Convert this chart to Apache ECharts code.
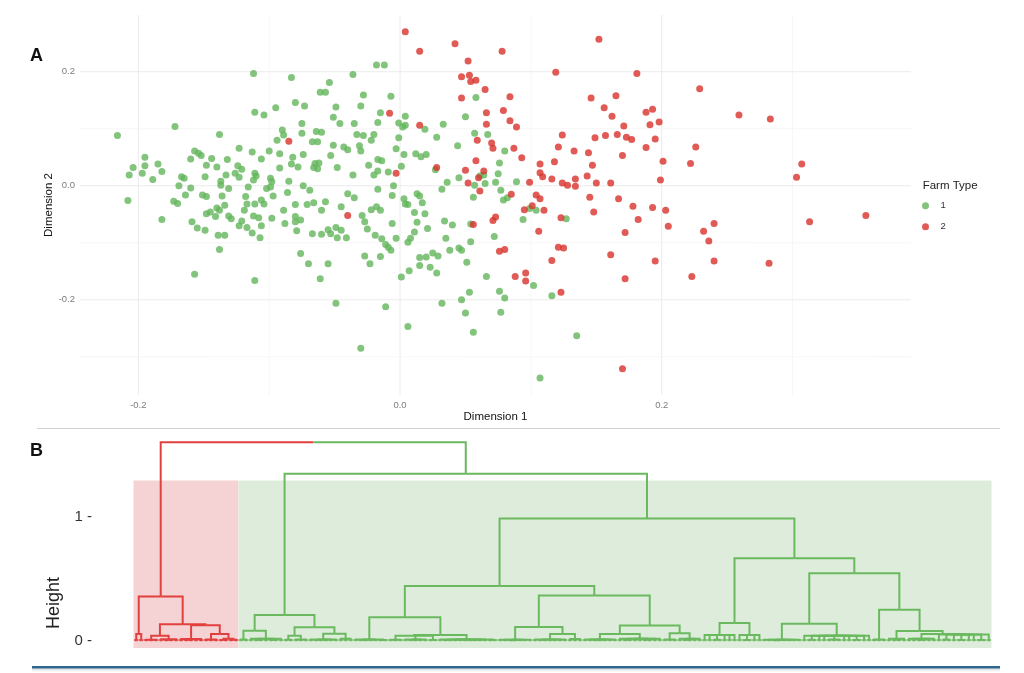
<!DOCTYPE html>
<html>
<head>
<meta charset="utf-8">
<script src="https://cdn.jsdelivr.net/npm/echarts@6/dist/echarts.min.js"></script>
<style>html,body{margin:0;padding:0;background:#fff}#c{width:1024px;height:673px}</style>
</head>
<body>
<div id="c"></div>
<script>
// ---------- Panel A data: MDS dimensions by farm type ----------
const farmType1 = [
[-0.018,0.212],[-0.012,0.212],[-0.112,0.197],[-0.036,0.195],[-0.083,0.190],[-0.054,0.181],[-0.061,0.164],[-0.057,0.164],[-0.028,0.159],[-0.007,0.157],[0.058,0.155],[-0.080,0.146],[-0.073,0.140],[-0.030,0.140],[-0.095,0.137],[-0.049,0.138],[-0.111,0.129],[-0.104,0.124],[-0.015,0.128],[-0.051,0.120],[0.004,0.122],[0.050,0.121],[-0.017,0.111],[-0.075,0.109],[-0.046,0.109],[-0.035,0.109],[-0.001,0.110],[0.004,0.106],[0.002,0.103],[0.033,0.108],[-0.172,0.104],[-0.090,0.098],[-0.089,0.089],[0.019,0.099],[-0.064,0.095],[-0.060,0.094],[-0.075,0.092],[-0.028,0.088],[-0.033,0.090],[-0.020,0.090],[0.057,0.092],[0.067,0.090],[-0.216,0.088],[-0.138,0.090],[0.028,0.085],[-0.001,0.084],[-0.094,0.080],[-0.022,0.080],[-0.067,0.077],[-0.063,0.077],[-0.051,0.071],[-0.031,0.070],[-0.043,0.068],[-0.040,0.063],[0.044,0.070],[-0.123,0.066],[-0.157,0.061],[-0.154,0.057],[-0.152,0.053],[-0.003,0.065],[-0.113,0.059],[-0.100,0.061],[-0.030,0.061],[-0.092,0.056],[-0.074,0.055],[-0.195,0.050],[-0.144,0.048],[-0.132,0.046],[-0.160,0.047],[-0.053,0.053],[0.003,0.055],[0.012,0.056],[0.016,0.051],[0.020,0.055],[-0.106,0.047],[-0.082,0.050],[-0.017,0.046],[-0.014,0.044],[0.076,0.040],[-0.185,0.038],[-0.204,0.032],[-0.195,0.035],[-0.182,0.025],[-0.148,0.036],[-0.140,0.033],[-0.124,0.035],[-0.121,0.029],[-0.065,0.039],[-0.062,0.040],[-0.063,0.030],[-0.066,0.032],[-0.083,0.038],[-0.078,0.033],[-0.024,0.036],[0.001,0.034],[-0.048,0.032],[0.027,0.028],[-0.092,0.031],[-0.207,0.019],[-0.197,0.022],[-0.189,0.011],[-0.167,0.016],[-0.165,0.013],[-0.149,0.016],[-0.133,0.019],[-0.126,0.022],[-0.111,0.022],[-0.110,0.017],[-0.099,0.013],[-0.036,0.019],[-0.017,0.026],[-0.020,0.019],[-0.009,0.024],[0.045,0.014],[0.061,0.017],[0.064,0.019],[0.075,0.021],[-0.137,0.008],[-0.123,0.015],[-0.112,0.010],[-0.098,0.007],[-0.085,0.008],[0.036,0.006],[0.073,0.006],[0.057,0.001],[0.065,0.004],[-0.169,0.000],[-0.160,-0.004],[-0.137,0.001],[-0.131,-0.005],[-0.116,-0.002],[-0.102,-0.005],[-0.099,-0.002],[-0.074,0.000],[-0.069,-0.008],[-0.005,0.000],[-0.017,-0.006],[0.032,-0.006],[0.077,-0.008],[-0.208,-0.026],[-0.173,-0.027],[-0.170,-0.031],[-0.164,-0.016],[-0.151,-0.016],[-0.148,-0.019],[-0.136,-0.018],[-0.118,-0.019],[-0.106,-0.025],[-0.097,-0.018],[-0.086,-0.012],[-0.040,-0.014],[-0.035,-0.021],[-0.006,-0.017],[0.013,-0.014],[0.015,-0.018],[0.003,-0.023],[0.056,-0.020],[0.079,-0.025],[0.082,-0.021],[-0.117,-0.032],[-0.111,-0.032],[-0.104,-0.032],[-0.080,-0.033],[-0.071,-0.033],[-0.066,-0.030],[-0.057,-0.028],[0.004,-0.032],[0.006,-0.033],[0.017,-0.030],[-0.148,-0.049],[-0.145,-0.046],[-0.140,-0.039],[-0.138,-0.043],[-0.134,-0.034],[-0.119,-0.043],[-0.089,-0.043],[-0.060,-0.043],[-0.045,-0.037],[-0.022,-0.042],[-0.018,-0.037],[-0.015,-0.043],[-0.029,-0.052],[0.011,-0.047],[0.019,-0.049],[-0.182,-0.059],[-0.141,-0.054],[-0.131,-0.053],[-0.129,-0.058],[-0.112,-0.053],[-0.098,-0.057],[-0.080,-0.054],[-0.076,-0.060],[-0.159,-0.063],[-0.155,-0.074],[-0.123,-0.070],[-0.121,-0.062],[-0.117,-0.073],[-0.108,-0.056],[-0.106,-0.070],[-0.088,-0.066],[-0.080,-0.063],[-0.079,-0.079],[-0.027,-0.063],[-0.006,-0.066],[0.013,-0.064],[0.034,-0.062],[0.040,-0.069],[0.054,-0.067],[0.021,-0.075],[-0.025,-0.076],[-0.149,-0.078],[-0.139,-0.087],[-0.134,-0.087],[-0.113,-0.083],[-0.107,-0.091],[-0.067,-0.084],[-0.060,-0.085],[-0.055,-0.077],[-0.053,-0.084],[-0.049,-0.073],[-0.048,-0.091],[-0.045,-0.078],[-0.041,-0.091],[-0.019,-0.087],[-0.014,-0.093],[-0.003,-0.092],[0.011,-0.081],[0.008,-0.092],[0.035,-0.092],[0.072,-0.089],[0.006,-0.099],[0.054,-0.098],[-0.011,-0.103],[-0.009,-0.108],[-0.007,-0.113],[-0.138,-0.112],[0.045,-0.109],[0.047,-0.113],[0.038,-0.113],[0.025,-0.118],[0.029,-0.123],[0.015,-0.126],[0.020,-0.125],[-0.027,-0.123],[-0.015,-0.124],[-0.076,-0.119],[-0.070,-0.137],[-0.055,-0.137],[-0.023,-0.137],[0.015,-0.140],[0.023,-0.143],[0.051,-0.134],[-0.157,-0.155],[-0.111,-0.166],[-0.061,-0.163],[0.001,-0.160],[0.007,-0.149],[0.028,-0.153],[0.066,-0.159],[0.053,-0.187],[0.076,-0.185],[0.080,-0.197],[0.047,-0.200],[-0.049,-0.206],[-0.011,-0.212],[0.032,-0.206],[0.050,-0.223],[0.077,-0.222],[0.006,-0.247],[0.056,-0.257],[-0.030,-0.285],[0.080,0.061],
[0.089,0.007],[0.099,-0.040],[0.104,-0.043],[0.127,-0.058],[0.094,-0.059],[0.102,-0.175],[0.116,-0.193],[0.135,-0.263],[0.107,-0.337]
];
const farmType2 = [
[0.004,0.270],[0.015,0.236],[0.042,0.249],[0.078,0.236],[0.052,0.219],[0.047,0.191],[0.053,0.194],[0.054,0.183],[0.058,0.185],[0.065,0.169],[0.047,0.154],[0.084,0.156],[-0.008,0.127],[0.066,0.128],[0.079,0.132],[0.084,0.114],[0.015,0.106],[0.066,0.108],[-0.085,0.078],[0.059,0.080],[0.070,0.075],[0.071,0.066],[0.058,0.044],[0.028,0.032],[-0.003,0.022],[0.050,0.027],[0.064,0.026],[0.060,0.014],[0.052,0.005],[0.061,-0.009],[0.085,-0.015],[-0.040,-0.052],[0.073,-0.055],[0.071,-0.061],[0.056,-0.068],[0.076,-0.115],[0.080,-0.112],
[0.152,0.257],[0.119,0.199],[0.181,0.197],[0.229,0.170],[0.146,0.154],[0.165,0.158],[0.156,0.137],[0.162,0.122],[0.188,0.129],[0.193,0.134],[0.191,0.107],[0.198,0.112],[0.171,0.105],[0.259,0.124],[0.283,0.117],[0.089,0.103],[0.124,0.089],[0.149,0.084],[0.157,0.088],[0.166,0.090],[0.173,0.085],[0.177,0.081],[0.195,0.082],[0.087,0.066],[0.121,0.068],[0.133,0.061],[0.144,0.058],[0.170,0.053],[0.188,0.067],[0.226,0.068],[0.093,0.049],[0.107,0.038],[0.118,0.042],[0.147,0.036],[0.201,0.043],[0.222,0.039],[0.307,0.038],[0.099,0.006],[0.107,0.023],[0.109,0.016],[0.116,0.012],[0.124,0.005],[0.128,0.001],[0.134,0.012],[0.134,-0.001],[0.143,0.017],[0.150,0.005],[0.161,0.005],[0.199,0.010],[0.303,0.015],[0.104,-0.016],[0.107,-0.023],[0.145,-0.020],[0.167,-0.023],[0.178,-0.036],[0.193,-0.038],[0.203,-0.043],[0.095,-0.042],[0.110,-0.043],[0.101,-0.035],[0.148,-0.046],[0.123,-0.056],[0.182,-0.059],[0.313,-0.063],[0.356,-0.052],[0.106,-0.080],[0.172,-0.082],[0.205,-0.071],[0.232,-0.080],[0.240,-0.066],[0.236,-0.097],[0.121,-0.108],[0.125,-0.109],[0.161,-0.121],[0.116,-0.131],[0.195,-0.132],[0.240,-0.132],[0.282,-0.136],[0.088,-0.159],[0.096,-0.153],[0.096,-0.167],[0.172,-0.163],[0.223,-0.159],[0.123,-0.187],[0.170,-0.321]
];
const farmTypeNames = ['1', '2'];
const dimTicksX = [-0.2, 0, 0.2];
const dimTicksY = [-0.2, 0, 0.2];
const gridValuesX = [-0.2, -0.1, 0, 0.1, 0.2, 0.3];
const gridValuesY = [-0.3, -0.2, -0.1, 0, 0.1, 0.2];

// ---------- Panel B data: hierarchical clustering tree ----------
// node = [height, child, child, ...]; leaf = 0; P = two leaves joined just above 0
const P = [0.004, 0, 0];
const redTree = [0.357,
  [0.054, P, P],
  [0.133,
    [0.04, [0.008,P,P,P], [0.011,P,[0.005,P,P],P]],
    [0.124,
      [0.013, P,[0.006,P,P],P,P],
      [0.054, [0.01,P,P,P], [0.015,[0.006,P,P],[0.008,P,P]]]
    ]
  ]
];
const greenTree = [1.353,
  [0.208,
    [0.081, [0.01,P,P], [0.015,P,[0.006,P,P],P,[0.005,P,P],P]],
    [0.108,
      [0.04,[0.008,P,P],[0.01,P,P,P]],
      [0.055,[0.01,P,[0.005,P,P],P,P,P],[0.015,P,P,P]]
    ]
  ],
  [0.989,
    [0.443,
      [0.19,
        [0.01,P,[0.005,P,P],P,P,[0.006,P,P]],
        [0.045,
          [0.04,[0.008,P,P,P],[0.01,P,[0.005,P,P],P,P],[0.006,P,P]],
          [0.01,P,[0.005,P,P],P,P,[0.006,P,P,P],P,P,[0.005,P,P]]
        ]
      ],
      [0.365,
        [0.111,
          [0.008,P,P,[0.004,P,P],P,P,P],
          [0.054,[0.01,P,[0.005,P,P],P,P,P,P],[0.013,P,P,P]]
        ],
        [0.122,
          [0.054,[0.01,P,P,[0.005,P,P],P,P,P],[0.015,P,[0.006,P,P],P,P,[0.005,P,P],P,P]],
          [0.06,[0.01,P,P,P],[0.015,P,[0.005,P,P],P,P]]
        ]
      ]
    ],
    [0.668,
      [0.143,[0.045,P,P,[0.008,P,P],P,P,P],[0.045,P,[0.006,P,P],P,P]],
      [0.546,
        [0.138,[0.008,P,P,[0.004,P,P],P,P,P,P],[0.04,P,[0.008,P,P],P,P,[0.01,P,P,P],P,P,[0.005,P,P],P,P]],
        [0.251,
          [0.01,P,P,P],
          [0.079,
            [0.015,P,[0.006,P,P],P],
            [0.054,[0.015,P,P,[0.005,P,P],P,P],[0.05,P,[0.01,P,P],P,[0.006,P,P],P,P,[0.005,P,P],P]]
          ]
        ]
      ]
    ]
  ]
];
const rootHeight = 1.608;
const heightTicks = [0, 1];
const clusterRectTop = 1.297;
const clusterRectBottom = -0.06;

// ---------- styles ----------
const GREEN = '#63b55b', RED = '#d8322c';
const DEND_RED = '#e2403e', DEND_GREEN = '#6ab95f';
const FILL_RED = '#f5d3d4', FILL_GREEN = '#deeddb';
const FONT = 'Liberation Sans, Arial, sans-serif';

// ---------- dendrogram layout ----------
let leafCounter = 0;
const segments = [];
function layout(node, color) {
  if (node === 0) { const x = leafCounter++; return {x: x, h: 0, lo: x, hi: x, color: color}; }
  const h = node[0];
  const kids = node.slice(1).map(k => layout(k, color));
  const x = (kids[0].x + kids[kids.length - 1].x) / 2;
  kids.forEach(k => segments.push({coords: [[k.x, k.h], [k.x, h], [x, h]], lineStyle: {color: k.color}}));
  return {x: x, h: h, lo: kids[0].lo, hi: kids[kids.length - 1].hi, color: color};
}
const redRes = layout(redTree, DEND_RED);
const greenRes = layout(greenTree, DEND_GREEN);
const rootX = (redRes.x + greenRes.x) / 2;
[redRes, greenRes].forEach(k => segments.push({coords: [[k.x, k.h], [k.x, rootHeight], [rootX, rootHeight]], lineStyle: {color: k.color}}));
const nLeaves = leafCounter;
const leafPad = 0.6;
const boundary = (redRes.hi + greenRes.lo) / 2;
const clusterRects = [
  [redRes.lo - leafPad, boundary, clusterRectBottom, clusterRectTop, FILL_RED],
  [boundary, greenRes.hi + leafPad, clusterRectBottom, clusterRectTop, FILL_GREEN]
];
// leaf axis: first leaf sits 30px right of the axis, last leaf 10px left of the panel edge
const leafSpan = nLeaves - 1;
const dendXMin = -leafSpan * 30 / 855, dendXMax = leafSpan * (1 + 10 / 855);

// gridline data
const gridData = [];
gridValuesX.forEach(v => gridData.push([v, 0, 1, Math.abs(Math.round(v * 10)) % 2 === 0 ? 1 : 0]));
gridValuesY.forEach(v => gridData.push([0, v, 0, Math.abs(Math.round(v * 10)) % 2 === 0 ? 1 : 0]));

const chart = echarts.init(document.getElementById('c'), null, {renderer: 'canvas'});
const option = {
  backgroundColor: '#fff',
  animation: false,
  textStyle: {fontFamily: FONT},
  grid: [
    {left: 80, top: 15, width: 831, height: 380},
    {left: 105, top: 437, width: 895, height: 212.3}
  ],
  xAxis: [
    {type: 'value', gridIndex: 0, min: -0.2446, max: 0.3905,
     axisLine: {show: false}, axisTick: {show: false}, splitLine: {show: false},
     axisLabel: {customValues: dimTicksX, formatter: v => v.toFixed(1), fontSize: 9.5, color: '#7d7d7d', margin: 5, fontFamily: FONT}},
    {type: 'value', gridIndex: 1, min: dendXMin, max: dendXMax, show: false}
  ],
  yAxis: [
    {type: 'value', gridIndex: 0, min: -0.367, max: 0.2995,
     axisLine: {show: false}, axisTick: {show: false}, splitLine: {show: false},
     axisLabel: {customValues: dimTicksY, formatter: v => v.toFixed(1), fontSize: 9.5, color: '#7d7d7d', margin: 5, fontFamily: FONT}},
    {type: 'value', gridIndex: 1, min: -0.07, max: 1.65,
     axisLine: {show: false}, axisTick: {show: false}, splitLine: {show: false},
     axisLabel: {customValues: heightTicks, formatter: v => v + ' -', fontSize: 15, color: '#333', margin: 13, fontFamily: FONT}}
  ],
  legend: {
    data: farmTypeNames, orient: 'vertical', left: 922, top: 200.8, padding: 0,
    icon: 'circle', itemWidth: 20, itemHeight: 7, itemGap: 11, selectedMode: false,
    textStyle: {fontSize: 9.5, color: '#333', fontFamily: FONT}
  },
  graphic: [
    {type: 'text', left: 30, top: 47, style: {text: 'A', font: 'bold 18px ' + FONT, fill: '#111'}},
    {type: 'text', left: 30, top: 442, style: {text: 'B', font: 'bold 18px ' + FONT, fill: '#111'}},
    {type: 'text', left: 922.7, top: 180, style: {text: 'Farm Type', font: '11.5px ' + FONT, fill: '#222'}},
    {type: 'text', x: 495.5, y: 416.7, style: {text: 'Dimension 1', font: '11.5px ' + FONT, fill: '#111', textAlign: 'center', textVerticalAlign: 'middle'}},
    {type: 'text', x: 49, y: 205, rotation: Math.PI / 2, style: {text: 'Dimension 2', font: '11.5px ' + FONT, fill: '#111', textAlign: 'center', textVerticalAlign: 'middle'}},
    {type: 'text', x: 54, y: 603, rotation: Math.PI / 2, style: {text: 'Height', font: '18px ' + FONT, fill: '#222', textAlign: 'center', textVerticalAlign: 'middle'}},
    {type: 'line', shape: {x1: 37, y1: 428.5, x2: 1000, y2: 428.5}, style: {stroke: '#cfcfcf', lineWidth: 1}},
    {type: 'rect', shape: {x: 32, y: 668.5, width: 968, height: 4.5},
     style: {fill: new echarts.graphic.LinearGradient(0, 0, 0, 1, [{offset: 0, color: 'rgba(180,180,180,0.6)'}, {offset: 1, color: 'rgba(255,255,255,0)'}])}},
    {type: 'line', shape: {x1: 32, y1: 667.3, x2: 1000, y2: 667.3}, style: {stroke: '#2f6690', lineWidth: 2.5}}
  ],
  series: [
    {type: 'custom', name: 'grid', xAxisIndex: 0, yAxisIndex: 0, z: 0, silent: true,
     data: gridData,
     renderItem: function (params, api) {
       const cs = params.coordSys;
       const isX = api.value(2) === 1, major = api.value(3) === 1;
       const style = {stroke: major ? '#ebebeb' : '#f4f4f4', lineWidth: major ? 1 : 0.8};
       if (isX) {
         const px = api.coord([api.value(0), 0])[0];
         return {type: 'line', shape: {x1: px, y1: cs.y, x2: px, y2: cs.y + cs.height}, style: style};
       }
       const py = api.coord([0, api.value(1)])[1];
       return {type: 'line', shape: {x1: cs.x, y1: py, x2: cs.x + cs.width, y2: py}, style: style};
     }},
    {type: 'scatter', name: farmTypeNames[0], xAxisIndex: 0, yAxisIndex: 0, data: farmType1,
     symbolSize: 7, itemStyle: {color: GREEN}, z: 3},
    {type: 'scatter', name: farmTypeNames[1], xAxisIndex: 0, yAxisIndex: 0, data: farmType2,
     symbolSize: 7, itemStyle: {color: RED}, z: 3},
    {type: 'custom', name: 'clusters', xAxisIndex: 1, yAxisIndex: 1, z: 1, silent: true,
     data: clusterRects.map(r => [r[0], r[1], r[2], r[3]]),
     encode: {x: [0, 1], y: [2, 3]},
     renderItem: function (params, api) {
       const p0 = api.coord([api.value(0), api.value(3)]);
       const p1 = api.coord([api.value(1), api.value(2)]);
       return {type: 'rect', shape: {x: p0[0], y: p0[1], width: p1[0] - p0[0], height: p1[1] - p0[1]},
               style: {fill: clusterRects[params.dataIndex][4]}};
     }},
    {type: 'lines', name: 'dendrogram', coordinateSystem: 'cartesian2d', xAxisIndex: 1, yAxisIndex: 1,
     polyline: true, z: 2, silent: true, data: segments,
     lineStyle: {width: 2, opacity: 1}}
  ]
};
chart.setOption(option);
</script>
</body>
</html>
